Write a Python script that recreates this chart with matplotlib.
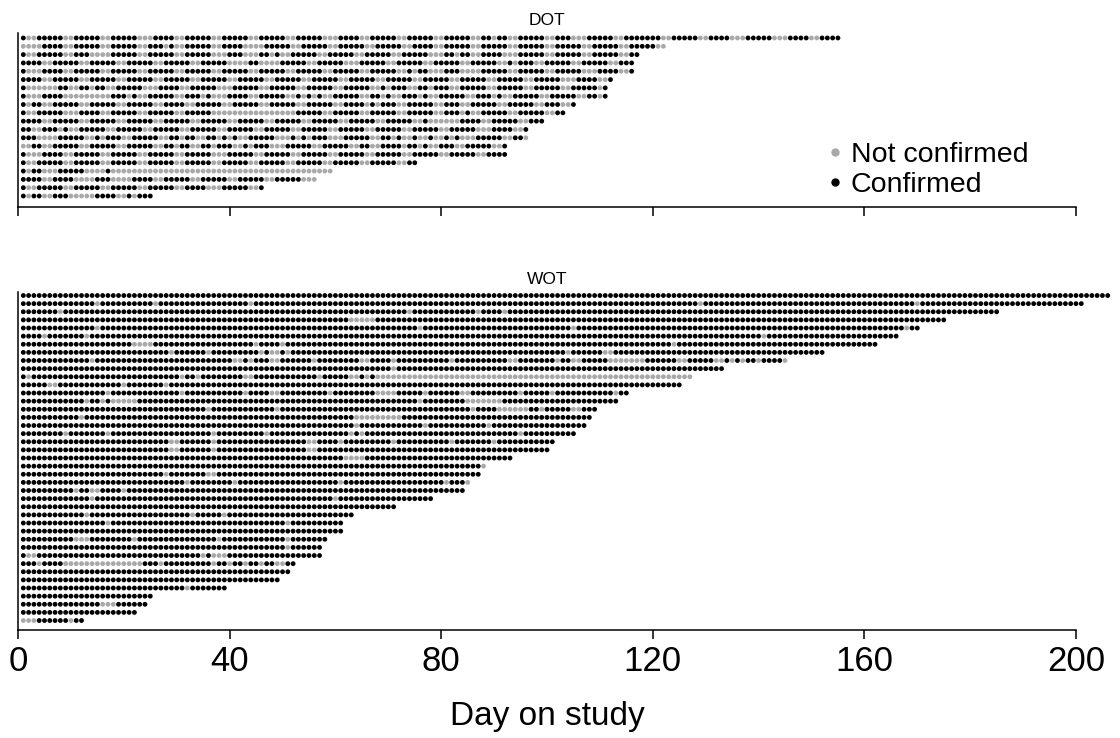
import matplotlib
matplotlib.use("Agg")
import matplotlib.pyplot as plt
from matplotlib.lines import Line2D

plt.rcParams['font.family'] = ['Liberation Sans', 'DejaVu Sans']

# DOT arm: one string per patient, one character per day on study (from day 1)
# '#' = dose confirmed, '.' = not confirmed; spaces only group the days by ten
dot_rows = [
    "#..#####.. #####..### ##...####. .#####..## ###..##### ..#####... ####..#### #..#####.. #####..##. ##..#####. .###...### ##..###### #..#####.. ####...### ##...####. .####",
    "....####.. #####..### ##..###.#. .#####..## ##....#### #..#####.. #####..### ##..####.. #####..### ##..#####. .#####..## ###..##### ..",
    "#..#####.. ###....### ##..#####. .#####...# ##...##.#. .#####..## ###..##### ..#####... ##.##..### #...#####. .#####..## ###..##",
    "####..#### #..#####.. #####..### ##..#####. ...##....# ####..#### #...#####. .#####..## ###..##### ..#.###..# ####..#### #..###",
    "#...####.. #####..### ##..#####. .#####..## ###..##### ..#####..# ####..#### #..#.##... ###....### ##..#####. .#####...# ###..#",
    "####..#### #..#####.. #####..### ##..#####. .#####..## ###..##### ..#####..# ####..#### #..#####.. #####..### ##...####. .#",
    "#......##. .##.##..## ###...#### ..#####... #####..### ##..#####. .#####..#. ###..##.## #..#####.. #####..### ##..#####. #",
    "#...####.. .......### .#..#####. .###.#...# ###..##### ..#.#.#..# ####..##.# ..###.#..# ####..###. #..#####.. #####..##. #",
    "#.##..#### #..#####.. #####..### #..#####.. #####..### ##..#####. .####.#.## #..#####.. ###..##### ..#####..# ##..#",
    "#..#####.. .####..### ##..#####. .#####.... .......... ..#####..# ####..#### #..#####.. ###.#..### ##..#####. .##",
    "####..#### #..#####.. #####..### ##..#####. .#####..## ###..##### ..#####..# ####..#... ...####..# ####..###",
    "##..###.#. .#####..## ###..##### ..#####..# ####..#### #..#####.. #####..### ##..#####. .#####...# ###..#",
    "###....### ##..#.###. .#####..## .##..##.#. #..#####.. .#.#.###.. .#####..## .#..#..#.. #.#...#### #..##.",
    "..##..#### #..#####.. #####..##. ##..##.### ..#.###... #####..### ##..##..## ##.##.#..# ##..#####. .#",
    "#...####.. #####..### ##..#####. .#####...# ####..#### #..#####.. #####..### ##..#####. .#####..## ##",
    "#..#####.. #####..### ##..#####. .#####..## ###..##### ..#####..# ####..#### #..##",
    "#.##...### ##....#... .......... .......... .......... .........",
    "####..#### ....###... .####..### ##..#####. .#####..## ###...",
    "#..#####.. #####..### ##..#####. .####...## ###..#",
    "#.##..###. ....####.. #.###",
]

# WOT arm: last day on study per patient, and the not-confirmed days (inclusive ranges)
wot_days = [206, 201, 185, 175, 170, 166, 162, 152, 145, 133, 127, 125, 115, 113,
            109, 108, 107, 105, 101, 100, 93, 88, 87, 85, 84, 78, 71, 63, 61, 61,
            58, 57, 57, 52, 51, 49, 39, 25, 24, 22, 12]
wot_missed = [
    [],
    [(15, 15), (26, 26), (44, 44), (129, 129), (170, 170)],
    [(8, 8), (74, 74), (87, 87), (92, 92)],
    [(63, 67)],
    [(15, 15), (76, 76), (105, 105), (168, 168)],
    [(5, 5), (13, 13), (141, 141)],
    [(22, 25), (45, 45), (50, 50), (124, 124)],
    [(29, 29), (36, 36), (46, 46), (48, 49), (51, 51), (104, 104), (111, 112)],
    [(14, 14), (41, 42), (44, 44), (48, 49), (56, 56), (65, 66), (71, 71), (82, 82),
     (93, 94), (102, 102), (105, 106), (112, 118), (125, 126), (132, 133), (135, 135),
     (137, 137), (140, 140), (145, 145)],
    [(71, 71)],
    [(2, 2), (31, 31), (34, 34), (43, 44), (57, 57), (63, 64), (66, 66), (68, 127)],
    [(6, 7), (20, 20), (28, 28)],
    [(17, 17), (31, 31), (43, 43), (48, 49), (59, 59), (68, 71), (77, 77), (84, 85),
     (95, 95), (101, 101), (113, 113)],
    [(13, 13), (16, 16), (18, 22), (76, 76), (85, 91)],
    [(36, 36), (49, 49), (86, 86), (91, 96), (99, 99), (105, 106)],
    [(12, 12), (64, 72)],
    [(64, 64), (77, 77), (89, 89)],
    [(9, 9), (17, 17), (37, 37), (47, 47), (63, 63), (65, 65), (95, 95)],
    [(29, 30), (37, 37), (55, 56), (61, 61), (71, 71), (82, 82), (90, 90)],
    [(29, 30), (37, 37), (55, 56)],
    [(62, 65)],
    [(88, 88)],
    [(28, 28), (36, 37)],
    [(32, 32), (41, 41), (61, 61), (81, 81), (85, 85)],
    [(11, 11), (14, 15), (20, 20)],
    [(14, 14), (60, 60)],
    [],
    [(13, 13), (33, 33), (39, 39)],
    [(17, 17), (51, 51)],
    [],
    [(11, 13), (22, 22), (38, 38), (51, 51)],
    [(51, 51)],
    [(2, 3), (35, 35), (37, 39)],
    [(4, 4), (9, 23), (27, 27), (37, 37), (40, 40), (43, 43), (46, 46), (49, 50)],
    [],
    [],
    [(32, 32)],
    [],
    [(16, 18)],
    [],
    [(1, 3), (10, 10)],
]

xticks = [0, 40, 80, 120, 160, 200]
grey = '#a9a9a9'
black = '#000000'


def dot_points(rows):
    xs, ys, cs = [], [], []
    for i, row in enumerate(rows):
        days = row.replace(" ", "")
        for d, ch in enumerate(days, start=1):
            xs.append(d)
            ys.append(i + 1)
            cs.append(black if ch == '#' else grey)
    return xs, ys, cs


def wot_points(last_days, missed):
    xs, ys, cs = [], [], []
    for i, (n, gaps) in enumerate(zip(last_days, missed)):
        for d in range(1, n + 1):
            xs.append(d)
            ys.append(i + 1)
            miss = any(a <= d <= b for a, b in gaps)
            cs.append(grey if miss else black)
    return xs, ys, cs


def style(ax):
    ax.spines['top'].set_visible(False)
    ax.spines['right'].set_visible(False)
    ax.spines['left'].set_linewidth(1.1)
    ax.spines['bottom'].set_linewidth(1.1)
    ax.set_xlim(0, 200)
    ax.set_xticks(xticks)
    ax.set_yticks([])
    ax.tick_params(axis='x', direction='out', length=6.5, width=1.1)


fig = plt.figure(figsize=(11.2, 7.38), dpi=100)

ax1 = fig.add_axes([0.0161, 0.7195, 0.9446, 0.2358])
x, y, c = dot_points(dot_rows)
ax1.scatter(x, y, c=c, s=12, linewidths=0, clip_on=False)
ax1.set_ylim(len(dot_rows) + 1.32, 0.4)
style(ax1)
ax1.set_xticklabels([])
ax1.set_title('DOT', fontsize=12.5, pad=6)

handles = [Line2D([], [], marker='o', color=grey, linestyle='none', markersize=5),
           Line2D([], [], marker='o', color=black, linestyle='none', markersize=5)]
ax1.legend(handles, ['Not confirmed', 'Confirmed'], loc='center left',
           bbox_to_anchor=(0.751, 0.213), frameon=False, fontsize=20.5,
           handletextpad=0.25, labelspacing=0.12, borderpad=0, handlelength=0.6)

ax2 = fig.add_axes([0.0161, 0.1463, 0.9446, 0.458])
x, y, c = wot_points(wot_days, wot_missed)
ax2.scatter(x, y, c=c, s=12, linewidths=0, clip_on=False)
ax2.set_ylim(len(wot_days) + 1.17, 0.57)
style(ax2)
ax2.set_xticklabels([str(t) for t in xticks], fontsize=25)
ax2.tick_params(axis='x', pad=4)
ax2.set_xlabel('Day on study', fontsize=24, labelpad=17)
ax2.set_title('WOT', fontsize=12.5, pad=6)

fig.savefig('out.png', dpi=100)
